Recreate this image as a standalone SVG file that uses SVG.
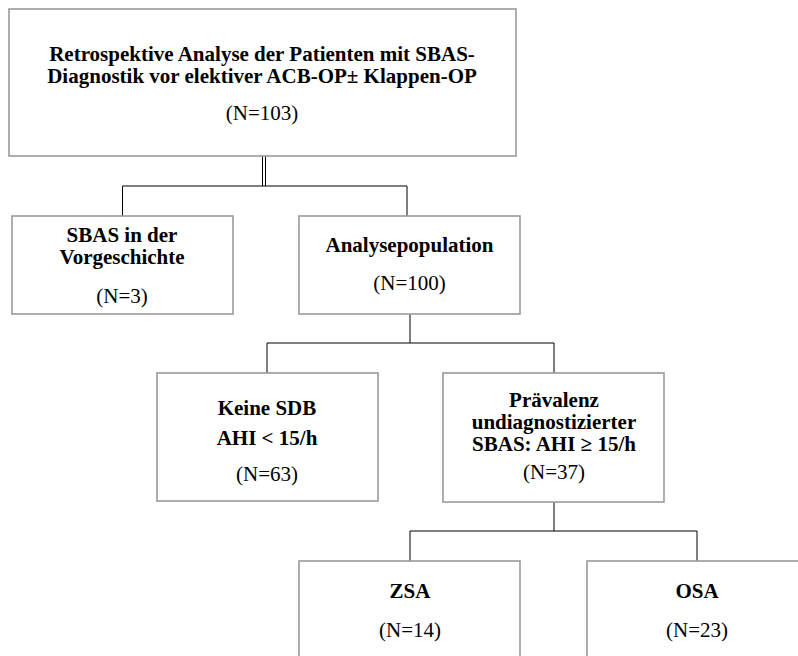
<svg xmlns="http://www.w3.org/2000/svg" width="798" height="656" viewBox="0 0 798 656">
<style>
.box{fill:#fff;stroke:#9a9a9a;stroke-width:1.6}
.con{fill:none;stroke:#000;stroke-width:1}
.b{font-family:"Liberation Serif","Times New Roman",serif;font-size:21px;font-weight:bold;text-anchor:middle;fill:#000}
.r{font-family:"Liberation Serif","Times New Roman",serif;font-size:21px;text-anchor:middle;fill:#000}
</style>
<rect width="798" height="656" fill="#fff"/>
<g id="connectors">
<line class="con" x1="262.5" y1="156" x2="262.5" y2="186"/>
<line class="con" x1="265.5" y1="156" x2="265.5" y2="186"/>
<polyline class="con" points="122.5,216 122.5,186 407,186 407,216"/>
<polyline class="con" points="410,314 410,343"/>
<polyline class="con" points="267,373 267,343 554,343 554,373"/>
<polyline class="con" points="554,502 554,531"/>
<polyline class="con" points="410,561 410,531 697,531 697,561"/>
</g>
<g id="n_top">
<rect class="box" x="9" y="9" width="507" height="147"/>
<text class="b" x="262" y="61">Retrospektive Analyse der Patienten mit SBAS-</text>
<text class="b" x="262" y="83">Diagnostik vor elektiver ACB-OP± Klappen-OP</text>
<text class="r" x="262" y="120">(N=103)</text>
</g>
<g id="n_sbas">
<rect class="box" x="12" y="216" width="221" height="98"/>
<text class="b" x="122" y="242">SBAS in der</text>
<text class="b" x="122" y="264">Vorgeschichte</text>
<text class="r" x="122" y="303">(N=3)</text>
</g>
<g id="n_analyse">
<rect class="box" x="299" y="216" width="221" height="98"/>
<text class="b" x="409.5" y="252">Analysepopulation</text>
<text class="r" x="409.5" y="290">(N=100)</text>
</g>
<g id="n_keine">
<rect class="box" x="157" y="373" width="221" height="128"/>
<text class="b" x="267" y="415">Keine SDB</text>
<text class="b" x="267" y="445">AHI &lt; 15/h</text>
<text class="r" x="267" y="481">(N=63)</text>
</g>
<g id="n_praev">
<rect class="box" x="443" y="373" width="221" height="129"/>
<text class="b" x="554" y="407">Prävalenz</text>
<text class="b" x="554" y="429">undiagnostizierter</text>
<text class="b" x="554" y="451">SBAS: AHI ≥ 15/h</text>
<text class="r" x="554" y="479">(N=37)</text>
</g>
<g id="n_zsa">
<rect class="box" x="299" y="561" width="221" height="110"/>
<text class="b" x="410" y="598">ZSA</text>
<text class="r" x="410" y="637">(N=14)</text>
</g>
<g id="n_osa">
<rect class="box" x="587" y="561" width="221" height="110"/>
<text class="b" x="697" y="598">OSA</text>
<text class="r" x="697" y="637">(N=23)</text>
</g>
</svg>
